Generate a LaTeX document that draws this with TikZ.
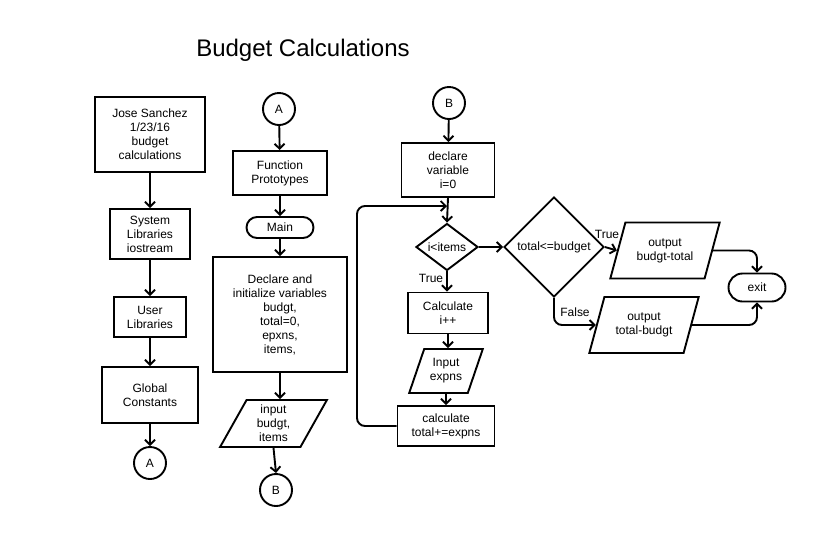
\documentclass[tikz,border=0pt]{standalone}
\usepackage{fontspec}
\setmainfont{Liberation Sans}
\usetikzlibrary{shapes.geometric,shapes.misc,arrows.meta}
\begin{document}
\begin{tikzpicture}[x=1pt,y=-1pt,
  every node/.style={font=\fontsize{12}{14}\selectfont, align=center, inner sep=0pt, line width=1.9pt},
  box/.style={draw, rectangle},
  conn/.style={draw, circle, minimum size=32pt},
  term/.style={draw, rounded rectangle},
  pgram/.style={draw, trapezium, trapezium left angle=66, trapezium right angle=114, trapezium stretches=true},
  dec/.style={draw, diamond},
  arr/.style={line width=1.9pt, -{Straight Barb[length=5pt,width=10pt]}},
  lbl/.style={font=\fontsize{12}{14}\selectfont}
]
\fill[white] (0,0) rectangle (815,550);
\useasboundingbox (0,0) rectangle (815,550);

\node[font=\fontsize{24}{28}\selectfont] (title) at (303,50) {Budget Calculations};

% left column
\node[box, minimum width=110pt, minimum height=75pt] (jose) at (150,134.5) {Jose Sanchez\\1/23/16\\budget\\calculations};
\node[box, minimum width=80pt, minimum height=50pt] (sys) at (150,234) {System\\Libraries\\iostream};
\node[box, minimum width=72pt, minimum height=40pt] (usr) at (150,317) {User\\Libraries};
\node[box, minimum width=96pt, minimum height=56pt] (glob) at (150,395) {Global\\Constants};
\node[conn] (A1) at (150,463) {A};

% middle column
\node[conn] (A2) at (279,109) {A};
\node[box, minimum width=94pt, minimum height=44pt] (proto) at (280,173) {Function\\Prototypes};
\node[term, minimum width=67pt, minimum height=21pt] (main) at (280,227.5) {Main};
\node[box, minimum width=134pt, minimum height=115pt] (decl) at (280,314.5) {Declare and\\initialize variables\\budgt,\\total=0,\\epxns,\\items,};
\node[pgram, minimum width=107pt, minimum height=47pt] (inb) at (273.5,423.5) {input\\budgt,\\items};
\node[conn] (B1) at (276,490) {B};

% right column
\node[conn] (B2) at (449,103) {B};
\node[box, minimum width=93pt, minimum height=54pt] (dv) at (448,170) {declare\\variable\\i=0};
\node[dec, minimum width=62pt, minimum height=47pt, aspect=1.3] (ii) at (447,247) {i<items};
\node[box, minimum width=80pt, minimum height=41pt] (calc) at (448,313) {Calculate\\i++};
\node[pgram, minimum width=74pt, minimum height=44pt] (ine) at (446,371) {Input\\expns};
\node[box, minimum width=97pt, minimum height=40pt] (ct) at (446,426) {calculate\\total+=expns};

\node[dec, minimum width=100pt, minimum height=100pt] (bud) at (554,247) {total<=budget};
\node[pgram, minimum width=110pt, minimum height=56pt] (oa) at (665,250.5) {output\\budgt-total};
\node[pgram, minimum width=110pt, minimum height=56pt] (ob) at (644,325) {output\\total-budgt};
\node[term, minimum width=57pt, minimum height=28pt] (exit) at (757,287.5) {exit};

% labels
\node[lbl] (t1) at (431,278) {True};
\node[lbl] (t2) at (607,234) {True};
\node[lbl] (f1) at (575,312) {False};

% connectors
\draw[arr] (jose) -- (sys);
\draw[arr] (sys) -- (usr);
\draw[arr] (usr) -- (glob);
\draw[arr] (glob) -- (A1);
\draw[arr] (A2) -- (proto);
\draw[arr] (proto) -- (main);
\draw[arr] (main) -- (decl);
\draw[arr] (decl.south) -- (decl.south |- inb.north);
\draw[arr] (inb.south) -- (B1.north);
\draw[arr] (B2) -- (dv);
\draw[arr] (dv.south) -- (ii.north);
\draw[arr] (ii.south) -- (ii.south |- calc.north);
\draw[arr] (calc.south) -- (calc.south |- ine.north);
\draw[arr] (ine.south) -- (ine.south |- ct.north);
\coordinate (lp) at (357,206);
\draw[arr, rounded corners=8pt] (ct.west) -| (lp) -- (ii.north |- lp);
\draw[arr] (ii.east) -- (bud.west);
\draw[arr] (bud.east) -- (oa.west);
\draw[arr, rounded corners=8pt] (bud.south) |- (ob.west);
\draw[arr, rounded corners=8pt] (oa.east) -| (exit.north);
\draw[arr, rounded corners=8pt] (ob.east) -| (exit.south);
\end{tikzpicture}
\end{document}
